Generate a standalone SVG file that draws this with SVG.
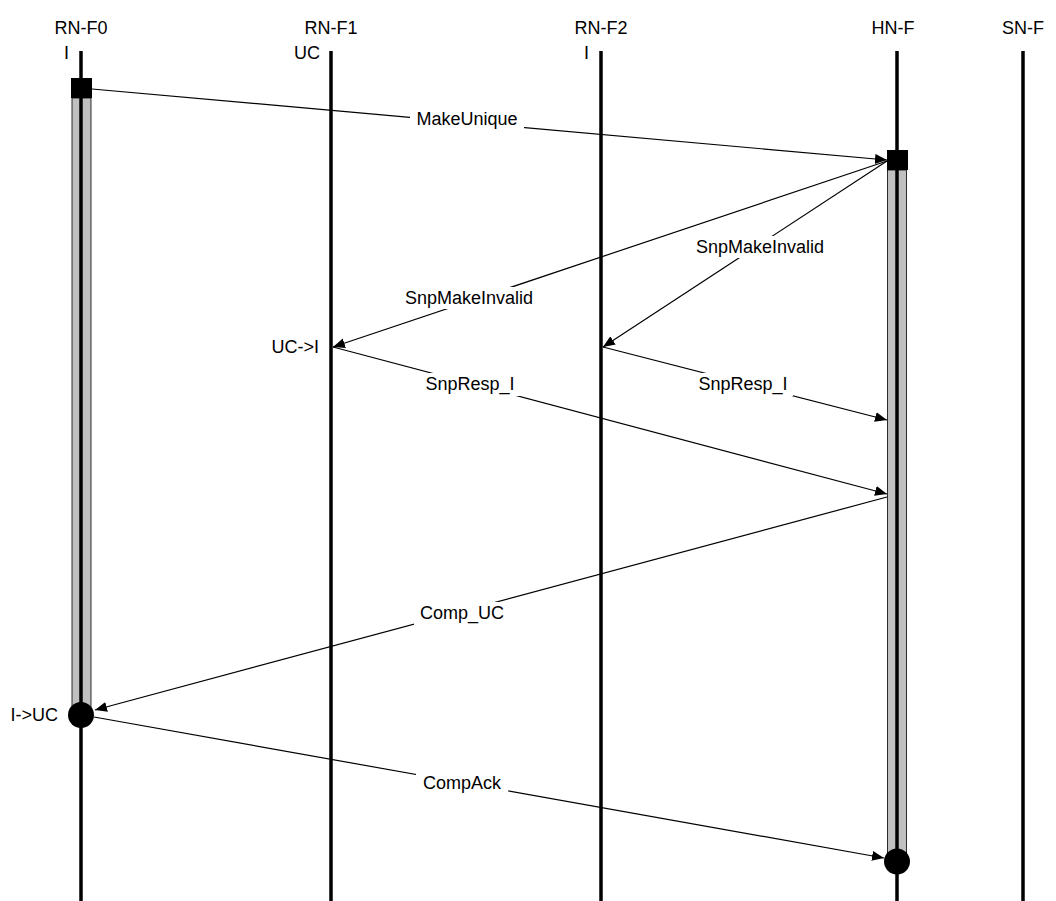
<svg xmlns="http://www.w3.org/2000/svg" width="1056" height="901" viewBox="0 0 1056 901">
<style>
text{font-family:"Liberation Sans",Arial,sans-serif;font-size:18px;fill:#000}
.hdr{text-anchor:middle}
.st{text-anchor:end}
.lbl{text-anchor:middle}
.life{stroke:#000;stroke-width:3.5}
.act{fill:#c0c0c0;stroke:#000;stroke-width:0.8}
.msg{stroke:#000;stroke-width:1.2;fill:none;marker-end:url(#ah)}
.bg{fill:#fff}
</style>
<defs>
<marker id="ah" markerUnits="userSpaceOnUse" markerWidth="14" markerHeight="12" refX="12" refY="5" orient="auto">
<path d="M0,0 L12,5 L0,10 Z" fill="#000"/>
</marker>
</defs>
<rect width="1056" height="901" fill="#fff"/>
<g id="RN-F0">
<text class="hdr" x="81" y="34">RN-F0</text>
<text class="st" x="69" y="59">I</text>
<line class="life" x1="81" y1="51" x2="81" y2="901"/>
<rect class="act" x="72" y="98" width="19" height="616"/>
<line class="life" x1="81" y1="98" x2="81" y2="714"/>
<rect x="71" y="78" width="21" height="20" fill="#000"/>
<circle cx="81" cy="715" r="13" fill="#000"/>
<text class="st" x="58" y="721">I-&gt;UC</text>
</g>
<g id="RN-F1">
<text class="hdr" x="331" y="34">RN-F1</text>
<text class="st" x="320" y="59">UC</text>
<line class="life" x1="331" y1="51" x2="331" y2="901"/>
<text class="st" x="319" y="353">UC-&gt;I</text>
</g>
<g id="RN-F2">
<text class="hdr" x="601" y="34">RN-F2</text>
<text class="st" x="589" y="59">I</text>
<line class="life" x1="601" y1="51" x2="601" y2="901"/>
</g>
<g id="HN-F">
<text class="hdr" x="893" y="34">HN-F</text>
<line class="life" x1="897" y1="51" x2="897" y2="901"/>
<rect class="act" x="887.5" y="170" width="19" height="691"/>
<line class="life" x1="897" y1="170" x2="897" y2="861"/>
<rect x="887" y="150" width="21" height="20" fill="#000"/>
<circle cx="897" cy="861.5" r="13" fill="#000"/>
</g>
<g id="SN-F">
<text class="hdr" x="1023" y="34">SN-F</text>
<line class="life" x1="1023" y1="51" x2="1023" y2="901"/>
</g>
<g id="connectors">
<line class="msg" x1="92" y1="89" x2="887" y2="160"/>
<line class="msg" x1="887" y1="161" x2="333" y2="347"/>
<line class="msg" x1="887" y1="161" x2="603" y2="347"/>
<line class="msg" x1="333" y1="347" x2="887" y2="494"/>
<line class="msg" x1="603" y1="347" x2="887" y2="420"/>
<line class="msg" x1="887" y1="497" x2="95" y2="710"/>
<line class="msg" x1="94" y1="717" x2="884" y2="858"/>
</g>
<g id="labels">
<rect class="bg" x="410" y="108" width="114" height="22"/>
<text class="lbl" x="467" y="125">MakeUnique</text>
<rect class="bg" x="398" y="287" width="142" height="22"/>
<text class="lbl" x="469" y="304">SnpMakeInvalid</text>
<rect class="bg" x="689" y="236" width="142" height="22"/>
<text class="lbl" x="760" y="253">SnpMakeInvalid</text>
<rect class="bg" x="420" y="373" width="100" height="23"/>
<text class="lbl" x="470" y="390">SnpResp_I</text>
<rect class="bg" x="693" y="373" width="100" height="23"/>
<text class="lbl" x="743" y="390">SnpResp_I</text>
<rect class="bg" x="414" y="602" width="96" height="23"/>
<text class="lbl" x="462" y="619">Comp_UC</text>
<rect class="bg" x="416" y="772" width="92" height="22"/>
<text class="lbl" x="462" y="789">CompAck</text>
</g>
</svg>
